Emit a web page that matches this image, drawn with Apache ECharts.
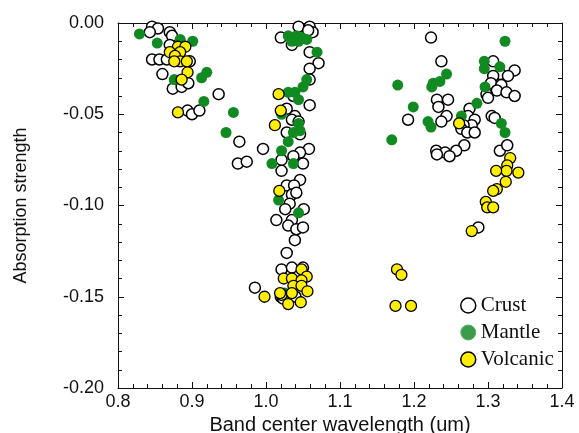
<!DOCTYPE html>
<html>
<head>
<meta charset="utf-8">
<title>Band center vs absorption</title>
<script src="https://cdn.jsdelivr.net/npm/echarts@6/dist/echarts.min.js"></script>
<style>
html,body{margin:0;padding:0;background:#fff;}
#chart1{width:579px;height:433px;}
</style>
</head>
<body>
<div id="chart1"></div>
<script>
// 数据: [band center (um), absorption strength]
var crust=[
	[0.846,-0.002],[0.854,-0.003],[0.843,-0.005],[0.870,-0.005],[0.873,-0.007],[0.870,-0.012],
	[0.846,-0.020],[0.856,-0.020],[0.866,-0.020],[0.897,-0.021],[0.860,-0.028],[0.874,-0.036],
	[0.886,-0.035],[0.895,-0.033],[0.936,-0.039],[0.894,-0.048],[0.900,-0.050],[0.910,-0.048],
	[0.964,-0.065],[0.996,-0.069],[0.962,-0.077],[0.974,-0.076],[0.985,-0.145],
	[1.044,-0.002],[1.059,-0.002],[1.063,-0.005],[1.057,-0.004],[1.020,-0.008],[1.035,-0.012],
	[1.059,-0.016],[1.071,-0.022],[1.059,-0.025],[1.059,-0.031],[1.037,-0.040],[1.059,-0.045],
	[1.028,-0.047],[1.039,-0.051],[1.035,-0.053],[1.044,-0.054],[1.028,-0.060],[1.046,-0.061],
	[1.058,-0.069],[1.046,-0.071],[1.037,-0.073],[1.021,-0.075],[1.050,-0.077],[1.021,-0.081],
	[1.046,-0.086],[1.028,-0.089],[1.038,-0.089],[1.035,-0.094],[1.041,-0.093],[1.032,-0.099],
	[1.026,-0.102],[1.051,-0.102],[1.014,-0.108],[1.035,-0.108],[1.030,-0.111],[1.041,-0.113],
	[1.050,-0.112],[1.039,-0.119],[1.028,-0.126],[1.021,-0.135],[1.035,-0.134],[1.050,-0.134],
	[1.020,-0.150],[1.040,-0.150],[1.023,-0.151],
	[1.223,-0.008],[1.237,-0.021],[1.307,-0.021],[1.317,-0.028],[1.336,-0.026],[1.327,-0.029],
	[1.307,-0.029],[1.304,-0.033],[1.318,-0.034],[1.312,-0.037],[1.325,-0.038],[1.336,-0.040],
	[1.298,-0.039],[1.300,-0.041],[1.231,-0.042],[1.246,-0.042],[1.233,-0.046],[1.275,-0.047],
	[1.192,-0.053],[1.244,-0.051],[1.237,-0.054],[1.273,-0.051],[1.282,-0.053],[1.278,-0.056],
	[1.267,-0.056],[1.305,-0.051],[1.309,-0.052],[1.264,-0.058],[1.272,-0.060],[1.282,-0.060],
	[1.268,-0.067],[1.230,-0.070],[1.242,-0.071],[1.257,-0.070],[1.231,-0.072],[1.248,-0.073],
	[1.316,-0.070],[1.326,-0.067],[1.287,-0.112]
];
var mantle=[
	[0.829,-0.006],[0.853,-0.011],[0.884,-0.009],[0.901,-0.010],[0.920,-0.027],[0.913,-0.030],
	[0.876,-0.031],[0.916,-0.043],[0.956,-0.049],[0.946,-0.060],
	[1.030,-0.007],[1.041,-0.007],[1.035,-0.010],[1.048,-0.008],[1.055,-0.009],[1.044,-0.010],
	[1.069,-0.016],[1.055,-0.031],[1.050,-0.035],[1.030,-0.038],[1.039,-0.038],[1.044,-0.042],
	[1.021,-0.050],[1.044,-0.055],[1.046,-0.059],[1.037,-0.060],[1.030,-0.065],[1.021,-0.070],
	[1.008,-0.077],[1.037,-0.077],[1.017,-0.097],[1.044,-0.104],[1.025,-0.148],[1.035,-0.140],
	[1.323,-0.010],[1.295,-0.021],[1.295,-0.025],[1.316,-0.024],[1.244,-0.028],[1.178,-0.034],
	[1.226,-0.033],[1.235,-0.032],[1.224,-0.035],[1.296,-0.035],[1.285,-0.044],[1.199,-0.046],
	[1.264,-0.051],[1.219,-0.054],[1.223,-0.057],[1.318,-0.055],[1.323,-0.060],[1.170,-0.064]
];
var volcanic=[
	[0.881,-0.013],[0.891,-0.013],[0.870,-0.016],[0.884,-0.016],[0.877,-0.018],[0.884,-0.021],
	[0.876,-0.021],[0.893,-0.021],[0.894,-0.027],[0.886,-0.031],[0.881,-0.049],
	[1.017,-0.039],[1.020,-0.048],[1.012,-0.056],[1.018,-0.092],
	[1.048,-0.135],[1.024,-0.140],[1.035,-0.140],[1.055,-0.139],[1.048,-0.141],[1.037,-0.144],
	[1.048,-0.144],[1.021,-0.149],[1.035,-0.148],[1.056,-0.147],[0.998,-0.150],[1.030,-0.154],
	[1.047,-0.153],[1.019,-0.148],
	[1.177,-0.135],[1.183,-0.138],[1.175,-0.155],[1.196,-0.155],
	[1.261,-0.055],[1.330,-0.074],[1.326,-0.078],[1.325,-0.081],[1.311,-0.081],[1.341,-0.082],
	[1.324,-0.087],[1.312,-0.091],[1.307,-0.092],[1.297,-0.098],[1.299,-0.101],[1.307,-0.101],
	[1.278,-0.114]
];
var xRange=[0.8,1.4];
var yRange=[-0.20,0.00];
var legendNames=['Crust','Mantle','Volcanic'];

var myChart1=echarts.init(document.getElementById('chart1'));

// 四边都有刻度, 刻度朝内
function frameAxis(pos,range,step,showLabel,digits){
	return {
		type:'value',
		position:pos,
		min:range[0],
		max:range[1],
		interval:step,
		axisLine:{show:true,onZero:false,lineStyle:{color:'#111',width:1}},
		axisTick:{show:true,inside:true,length:6,lineStyle:{color:'#111'}},
		minorTick:{show:true,splitNumber:5,length:4,lineStyle:{color:'#111'}},
		splitLine:{show:false},
		axisLabel:{
			show:showLabel,
			showMinLabel:true,
			showMaxLabel:true,
			hideOverlap:false,
			margin:pos==='left'?14:5,
			color:'#111',
			fontFamily:'Liberation Sans',
			fontSize:18,
			formatter:function(v){return v.toFixed(digits);}
		}
	};
}

var xBottom=frameAxis('bottom',xRange,0.1,true,1);
xBottom.name='Band center wavelength (um)';
xBottom.nameLocation='middle';
xBottom.nameGap=22;
xBottom.nameTextStyle={color:'#111',fontFamily:'Liberation Sans',fontSize:20};
var xTop=frameAxis('top',xRange,0.1,false,1);

var yLeft=frameAxis('left',yRange,0.05,true,2);
yLeft.name='Absorption strength';
yLeft.nameLocation='middle';
yLeft.nameGap=88;
yLeft.nameTextStyle={color:'#111',fontFamily:'Liberation Sans',fontSize:18};
var yRight=frameAxis('right',yRange,0.05,false,2);

var option1={
	animation:false,
	backgroundColor:'#fff',
	// v6 默认会把网格往里缩, 这里关掉
	grid:{left:118,right:17,top:23,bottom:45,containLabel:false,outerBoundsMode:'none'},
	legend:{
		orient:'vertical',
		left:455,
		top:290,
		itemWidth:15,
		itemHeight:15,
		itemGap:6,
		icon:'circle',
		textStyle:{color:'#111',fontFamily:'Liberation Serif',fontSize:21},
		data:[
			{name:legendNames[0],itemStyle:{color:'#fff',borderColor:'#000',borderWidth:1.5}},
			{name:legendNames[1],itemStyle:{color:'#3d9c4b',borderColor:'#5bb468',borderWidth:1}},
			{name:legendNames[2],itemStyle:{color:'#ffee00',borderColor:'#000',borderWidth:1.5}}
		]
	},
	xAxis:[xBottom,xTop],
	yAxis:[yLeft,yRight],
	series:[{
		name:legendNames[0],
		type:'scatter',
		symbolSize:11,
		data:crust,
		itemStyle:{color:'#fff',borderColor:'#000',borderWidth:1.5,opacity:1}
	},{
		name:legendNames[1],
		type:'scatter',
		symbolSize:11,
		data:mantle,
		itemStyle:{color:'#128a22',opacity:1}
	},{
		name:legendNames[2],
		type:'scatter',
		symbolSize:11,
		data:volcanic,
		itemStyle:{color:'#ffee00',borderColor:'#000',borderWidth:1.3,opacity:1}
	}]
};
myChart1.setOption(option1);
</script>
</body>
</html>
